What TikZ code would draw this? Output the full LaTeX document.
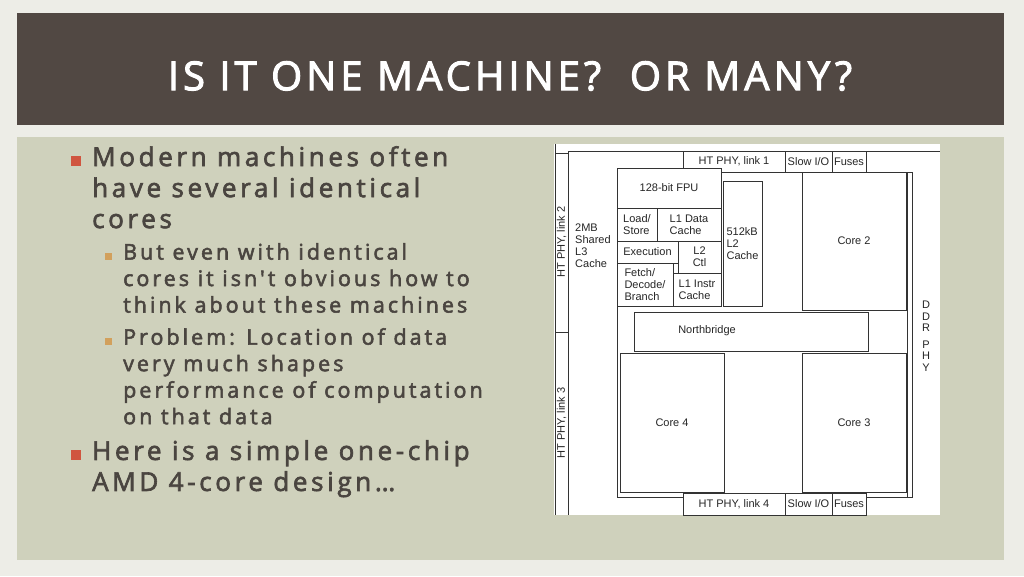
\documentclass[tikz,border=0pt]{standalone}
\usepackage{fontspec}
\setmainfont{Liberation Sans}
\newfontfamily\slidefont[LetterSpace=14,FakeBold=2.5]{Open Sans}
\newfontfamily\titlefont[LetterSpace=10,FakeBold=2.5]{Open Sans}
\usetikzlibrary{positioning}
\definecolor{slidebg}{HTML}{EDEDE7}
\definecolor{titlebar}{HTML}{514843}
\definecolor{panel}{HTML}{CFD1BC}
\definecolor{bodytext}{HTML}{4A4540}
\definecolor{bulletA}{HTML}{D0553F}
\definecolor{bulletB}{HTML}{D2A05C}
\tikzset{block/.style={draw=black!80,line width=0.6pt,fill=white},
		blocktext/.style={font=\fontsize{11}{12}\selectfont,text=black!85,align=left,inner sep=0pt},
		bodyA/.style={font=\slidefont\fontsize{26}{31}\selectfont,text=bodytext,align=left,anchor=north west,inner sep=0pt},
		bodyB/.style={font=\slidefont\fontsize{21.5}{26.5}\selectfont,text=bodytext,align=left,anchor=north west,inner sep=0pt}}
\begin{document}
\begin{tikzpicture}[x=1pt,y=-1pt]
\fill[slidebg] (0,0) rectangle (1024,576);
\useasboundingbox (0,0) rectangle (1024,576);
\fill[titlebar] (17,13) rectangle (1004,125);
\fill[panel] (17,137) rectangle (1004,560);
\node[font=\titlefont\fontsize{40}{42}\selectfont,text=white] (title) at (510,76) {IS IT ONE MACHINE?\ \ OR MANY?};
% bullets
\fill[bulletA] (71,156) rectangle (81,166);
\node[bodyA] (p1) at (92,146) {Modern machines often\\have several identical\\cores};
\fill[bulletB] (105,253) rectangle (112,260);
\node[bodyB] (p2) at (123,243) {But even with identical\\cores it isn't obvious how to\\think about these machines};
\fill[bulletB] (105,338) rectangle (112,345);
\node[bodyB] (p3) at (123,328) {Problem: Location of data\\very much shapes\\performance of computation\\on that data};
\fill[bulletA] (71,450) rectangle (81,460);
\node[bodyA] (p4) at (92,440) {Here is a simple one-chip\\AMD 4-core design\ldots};
% chip
\fill[white] (554,144) rectangle (940,515);
\draw[black!80,line width=0.6pt] (555,144) -- (555,515) (568,151) -- (568,515) (555,153) -- (568,153) (555,332) -- (568,332) (568,151) -- (940,151);
\node[blocktext,rotate=90] (l2) at (561.5,242) {HT PHY, link 2};
\node[blocktext,rotate=90] (l3) at (561.5,423) {HT PHY, link 3};
\draw[block] (617,172) rectangle (912,497);
\draw[black!80,line width=0.6pt] (907,172) -- (907,497);
\draw[block] (683,151) rectangle node[blocktext] (l1) {HT PHY, link 1} (785,172);
\draw[block] (785,151) rectangle node[blocktext] (sio1) {Slow I/O} (832,172);
\draw[block] (832,151) rectangle node[blocktext] (fu1) {Fuses} (866,172);
\draw[block] (683,493) rectangle node[blocktext] (l4) {HT PHY, link 4} (785,515);
\draw[block] (785,493) rectangle node[blocktext] (sio2) {Slow I/O} (832,515);
\draw[block] (832,493) rectangle node[blocktext] (fu2) {Fuses} (866,515);
\node[blocktext,anchor=north west] (l3c) at (575,224) {2MB\\Shared\\L3\\Cache};
\draw[block] (617,168) rectangle node[blocktext] (fpu) {128-bit FPU} (721,208);
\draw[block] (617,208) rectangle node[blocktext] (ls) {Load/\\Store} (657,241);
\draw[block] (657,208) rectangle node[blocktext] (l1d) {L1 Data\\Cache} (721,241);
\draw[block] (617,241) rectangle node[blocktext] (ex) {Execution} (678,263);
\draw[block] (678,241) rectangle node[blocktext,align=center] (l2c) {L2\\Ctl} (721,273);
\draw[block] (617,263) rectangle node[blocktext] (fd) {Fetch/\\Decode/\\Branch} (673,306);
\draw[block] (673,273) rectangle node[blocktext] (l1i) {L1 Instr\\Cache} (721,306);
\draw[block] (723,181) rectangle node[blocktext] (l2k) {512kB\\L2\\Cache} (762,306);
\draw[block] (802,172) rectangle node[blocktext] (c2) {Core 2} (906,310);
\draw[block] (634,312) rectangle (868,351);
\node[blocktext] (nb) at (707,331) {Northbridge};
\draw[block] (620,353) rectangle node[blocktext] (c4) {Core 4} (724,492);
\draw[block] (802,353) rectangle node[blocktext] (c3) {Core 3} (906,492);
\node[blocktext,align=center,font=\fontsize{11}{11.5}\selectfont] (ddr) at (926,336) {D\\D\\R\\[5pt]P\\H\\Y};
\end{tikzpicture}
\end{document}
